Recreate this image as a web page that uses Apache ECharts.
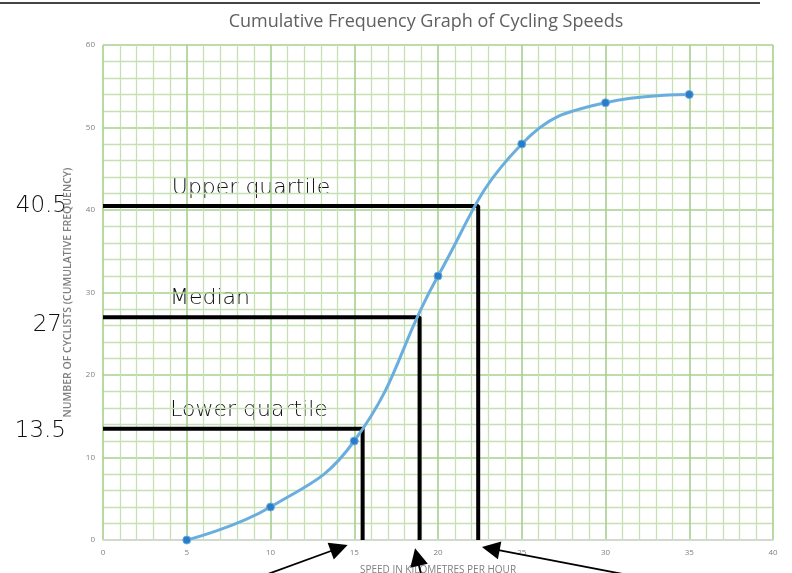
<!DOCTYPE html>
<html>
<head>
<meta charset="utf-8">
<script src="https://cdn.jsdelivr.net/npm/echarts@6/dist/echarts.min.js"></script>
<style>html,body{margin:0;padding:0;background:#fff;}#c{width:792px;height:573px;}</style>
</head>
<body>
<div id="c"></div>
<script>
var speeds = [5, 10, 15, 20, 25, 30, 35];
var cumFreq = [0, 4, 12, 32, 48, 53, 54];
var quartileNames = ['Lower quartile', 'Median', 'Upper quartile'];
var quartileValues = [13.5, 27, 40.5];
var quartileSpeeds = [15.5, 18.9, 22.4];
var arrowTails = [[9.6, -4.3], [19.0, -4.3], [31.5, -4.3]];
var arrowHeads = [[14.1, -0.97], [18.75, -2.06], [23.15, -1.05]];

var chart = echarts.init(document.getElementById('c'));
var curveData = speeds.map(function (s, i) { return [s, cumFreq[i]]; });
var series = [{
  type: 'line',
  data: curveData,
  smooth: 0.45,
  symbol: 'circle',
  symbolSize: 8,
  lineStyle: { color: '#6aaee0', width: 3 },
  itemStyle: { color: '#2a7bc8', borderColor: '#6aaee0', borderWidth: 1 },
  z: 5
}];
quartileValues.forEach(function (q, i) {
  series.push({
    type: 'line',
    data: [[0, q], [quartileSpeeds[i], q], [quartileSpeeds[i], 0]],
    symbol: 'none',
    lineStyle: { color: '#000', width: 4 },
    z: 4
  });
});
series.push({
  type: 'lines',
  coordinateSystem: 'cartesian2d',
  clip: false,
  silent: true,
  symbol: ['none', 'triangle'],
  symbolSize: [14, 18],
  lineStyle: { color: '#000', width: 1.8, opacity: 1 },
  data: arrowTails.map(function (t, i) {
    return { coords: [t, arrowHeads[i]] };
  }),
  z: 6
});

var hand = { fontFamily: 'DejaVu Sans', fontWeight: 'lighter', fill: '#111' };
var graphics = [
  { type: 'line', shape: { x1: 0, y1: 3, x2: 760, y2: 3 }, style: { stroke: '#444', lineWidth: 2 } }
];
var valueLabelPos = [[66, 431], [62, 325], [67, 206]];
var nameLabelPos = [[249, 410], [210, 298], [251, 188]];
quartileValues.forEach(function (q, i) {
  graphics.push({ type: 'text', x: valueLabelPos[i][0], y: valueLabelPos[i][1],
    style: Object.assign({ text: String(q), fontSize: 23, align: 'right', verticalAlign: 'middle' }, hand) });
  graphics.push({ type: 'text', x: nameLabelPos[i][0], y: nameLabelPos[i][1],
    style: Object.assign({ text: quartileNames[i], fontSize: 22, align: 'center', verticalAlign: 'middle' }, hand) });
});

chart.setOption({
  animation: false,
  title: {
    text: 'Cumulative Frequency Graph of Cycling Speeds',
    left: 421, top: 8, textAlign: 'center',
    textStyle: { fontFamily: 'Open Sans', fontWeight: 'normal', fontSize: 18, color: '#606060' }
  },
  grid: { left: 103, right: 19, top: 45, bottom: 33, containLabel: false, outerBoundsMode: 'none' },
  xAxis: {
    type: 'value', min: 0, max: 40, interval: 5,
    name: 'SPEED IN KILOMETRES PER HOUR', nameLocation: 'middle', nameGap: 25,
    nameTextStyle: { fontFamily: 'Open Sans', fontSize: 10, color: '#7f7f7f' },
    axisLine: { show: true, lineStyle: { color: '#d9d9d9', width: 1.5 } },
    axisTick: { show: false },
    axisLabel: { fontFamily: 'Open Sans', fontSize: 8, color: '#808080', margin: 9 },
    splitLine: { show: true, lineStyle: { color: '#a8d08d', width: 1.6 } },
    minorTick: { show: false, splitNumber: 5 },
    minorSplitLine: { show: true, lineStyle: { color: '#c6e0b4', width: 1.3 } }
  },
  yAxis: {
    type: 'value', min: 0, max: 60, interval: 10,
    name: 'NUMBER OF CYCLISTS (CUMULATIVE FREQUENCY)', nameLocation: 'middle', nameGap: 29,
    nameTextStyle: { fontFamily: 'Open Sans', fontSize: 10.5, fontWeight: 600, color: '#7f7f7f' },
    axisLine: { show: false },
    axisTick: { show: false },
    axisLabel: { fontFamily: 'Open Sans', fontSize: 8, color: '#808080', margin: 8 },
    splitLine: { show: true, lineStyle: { color: '#a8d08d', width: 1.6 } },
    minorTick: { show: false, splitNumber: 5 },
    minorSplitLine: { show: true, lineStyle: { color: '#c6e0b4', width: 1.3 } }
  },
  series: series,
  graphic: graphics
});
</script>
</body>
</html>
